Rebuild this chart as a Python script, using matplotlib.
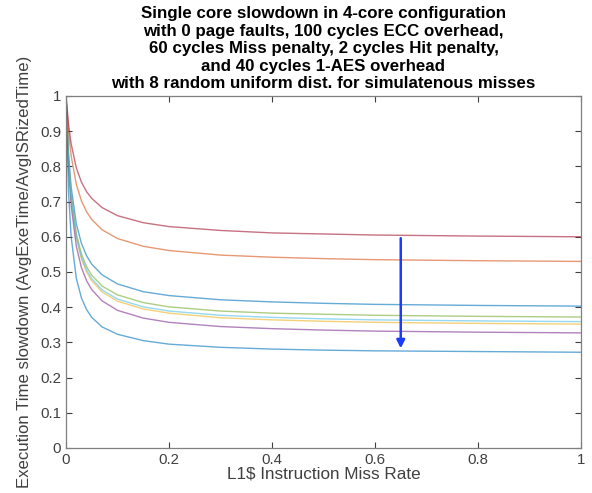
import matplotlib.pyplot as plt

# miss rate samples
miss_rate = [0, 0.005, 0.01, 0.02, 0.03, 0.04, 0.05, 0.07, 0.1, 0.15,
             0.2, 0.3, 0.4, 0.5, 0.6, 0.8, 1.0]

# one curve per simultaneous-miss setting (top to bottom at x=1)
red = [1.0, 0.918, 0.864, 0.796, 0.755, 0.728, 0.709, 0.683, 0.660, 0.640,
       0.629, 0.618, 0.611, 0.608, 0.605, 0.602, 0.600]
orange = [1.0, 0.897, 0.830, 0.749, 0.702, 0.671, 0.649, 0.620, 0.595, 0.573,
          0.561, 0.548, 0.542, 0.538, 0.535, 0.532, 0.530]
blue1 = [1.0, 0.835, 0.741, 0.637, 0.581, 0.546, 0.522, 0.492, 0.466, 0.444,
         0.433, 0.421, 0.415, 0.411, 0.408, 0.405, 0.403]
green = [1.0, 0.818, 0.717, 0.609, 0.551, 0.515, 0.491, 0.460, 0.435, 0.413,
         0.401, 0.389, 0.383, 0.380, 0.377, 0.374, 0.372]
cyan = [1.0, 0.815, 0.712, 0.601, 0.542, 0.506, 0.481, 0.449, 0.423, 0.401,
        0.389, 0.377, 0.371, 0.367, 0.364, 0.361, 0.359]
yellow = [1.0, 0.813, 0.708, 0.596, 0.537, 0.500, 0.475, 0.443, 0.417, 0.395,
          0.383, 0.370, 0.364, 0.360, 0.357, 0.354, 0.352]
purple = [1.0, 0.799, 0.689, 0.573, 0.512, 0.475, 0.450, 0.418, 0.391, 0.369,
          0.357, 0.345, 0.339, 0.335, 0.332, 0.329, 0.327]
blue2 = [1.0, 0.725, 0.600, 0.482, 0.426, 0.393, 0.371, 0.344, 0.323, 0.305,
         0.295, 0.286, 0.281, 0.278, 0.276, 0.274, 0.272]

# plotted in matlab order so colours follow the default cycle
curves = [blue1, orange, yellow, purple, green, cyan, red, blue2]
colors = ['#0072BD', '#D95319', '#EDB120', '#7E2F8E', '#77AC30', '#4DBEEE',
          '#A2142F', '#0072BD']

arrow_x = 0.65
arrow_top = 0.596
arrow_tip = 0.283

title = ("Single core slowdown in 4-core configuration\n"
         "with 0 page faults, 100 cycles ECC overhead,\n"
         "60 cycles Miss penalty, 2 cycles Hit penalty,\n"
         "and 40 cycles 1-AES overhead\n"
         "with 8 random uniform dist. for simulatenous misses")

plt.rcParams['font.family'] = ['Liberation Sans', 'DejaVu Sans']

fig = plt.figure(figsize=(5.92, 4.93), dpi=100)
ax = fig.add_axes([0.1115, 0.0913, 0.8699, 0.714])

for y, c in zip(curves, colors):
    ax.plot(miss_rate, y, color=c, lw=1.0, alpha=0.6)

ax.annotate('', xy=(arrow_x, arrow_tip), xytext=(arrow_x, arrow_top),
            arrowprops=dict(arrowstyle='-|>', color='#1a3cff', lw=1.8,
                            mutation_scale=12, shrinkA=0, shrinkB=0))

ax.set_xlim(0, 1)
ax.set_ylim(0, 1)
ax.set_xticks([0, 0.2, 0.4, 0.6, 0.8, 1])
ax.set_xticklabels(['0', '0.2', '0.4', '0.6', '0.8', '1'])
ax.set_yticks([i / 10 for i in range(11)])
ax.set_yticklabels(['0', '0.1', '0.2', '0.3', '0.4', '0.5', '0.6', '0.7',
                    '0.8', '0.9', '1'])
ax.tick_params(direction='in', top=True, right=True, length=4,
               labelsize=10.8, colors='#404040', width=0.8)
for s in ax.spines.values():
    s.set_color('#808080')
    s.set_linewidth(0.9)

ax.set_xlabel(r'L1\$ Instruction Miss Rate', fontsize=12.3, color='#404040',
              labelpad=0)
ax.set_ylabel('Execution Time slowdown (AvgExeTime/AvgISRizedTime)',
              fontsize=12.1, color='#404040')
ax.yaxis.set_label_coords(-0.066, 0.5)
ax.set_title(title, fontsize=12.2, fontweight='bold', linespacing=1.21,
             pad=5.5)

fig.savefig('out.png', dpi=100)
